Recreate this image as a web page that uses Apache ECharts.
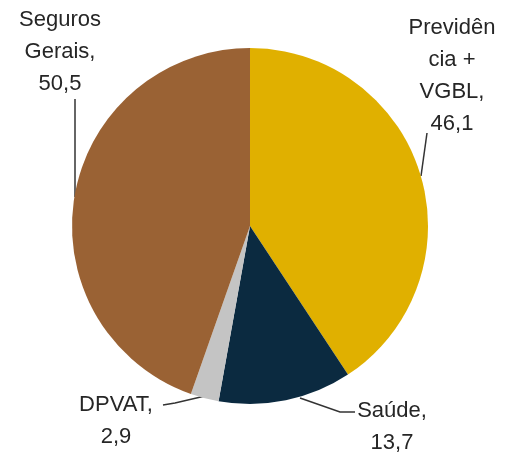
<!DOCTYPE html>
<html><head><meta charset="utf-8">
<script src="https://cdn.jsdelivr.net/npm/echarts@6/dist/echarts.min.js"></script>
<style>html,body{margin:0;padding:0;background:#fff}#c{width:508px;height:454px}</style>
</head><body><div id="c"></div>
<script>
const categories = ['Previdência + VGBL', 'Saúde', 'DPVAT', 'Seguros Gerais'];
const values = [46.1, 13.7, 2.9, 50.5];
const labelTexts = ['Previdên\ncia +\nVGBL,\n46,1', 'Saúde,\n13,7', 'DPVAT,\n2,9', 'Seguros\nGerais,\n50,5'];
const colors = ['#E0B000', '#0B2A40', '#C4C4C4', '#9A6234'];

const labelPos = [
  {x: 452, y: 12, line: [[421,176],[427,133],[427,133]]},
  {x: 392, y: 395, line: [[300,398],[340,412],[355,412]]},
  {x: 116, y: 389, line: [[205,396],[175,403],[163,405]]},
  {x: 60, y: 4, line: [[75,197],[75,150],[75,99]]}
];

const chart = echarts.init(document.getElementById('c'));
chart.setOption({
  animation: false,
  series: [{
    type: 'pie',
    center: [250, 226],
    radius: 178,
    startAngle: 90,
    clockwise: true,
    data: categories.map((c, i) => ({name: c, value: values[i], itemStyle: {color: colors[i]}})),
    label: {
      show: true,
      formatter: p => labelTexts[p.dataIndex],
      fontFamily: 'Liberation Sans',
      fontSize: 22,
      lineHeight: 32,
      color: '#262626',
      align: 'center',
      overflow: 'none',
      width: 200
    },
    labelLine: {show: true, lineStyle: {color: '#333333', width: 1.5}},
    labelLayout: p => ({
      x: labelPos[p.dataIndex].x,
      y: labelPos[p.dataIndex].y,
      align: 'center',
      verticalAlign: 'top',
      labelLinePoints: labelPos[p.dataIndex].line
    })
  }]
});
</script></body></html>
